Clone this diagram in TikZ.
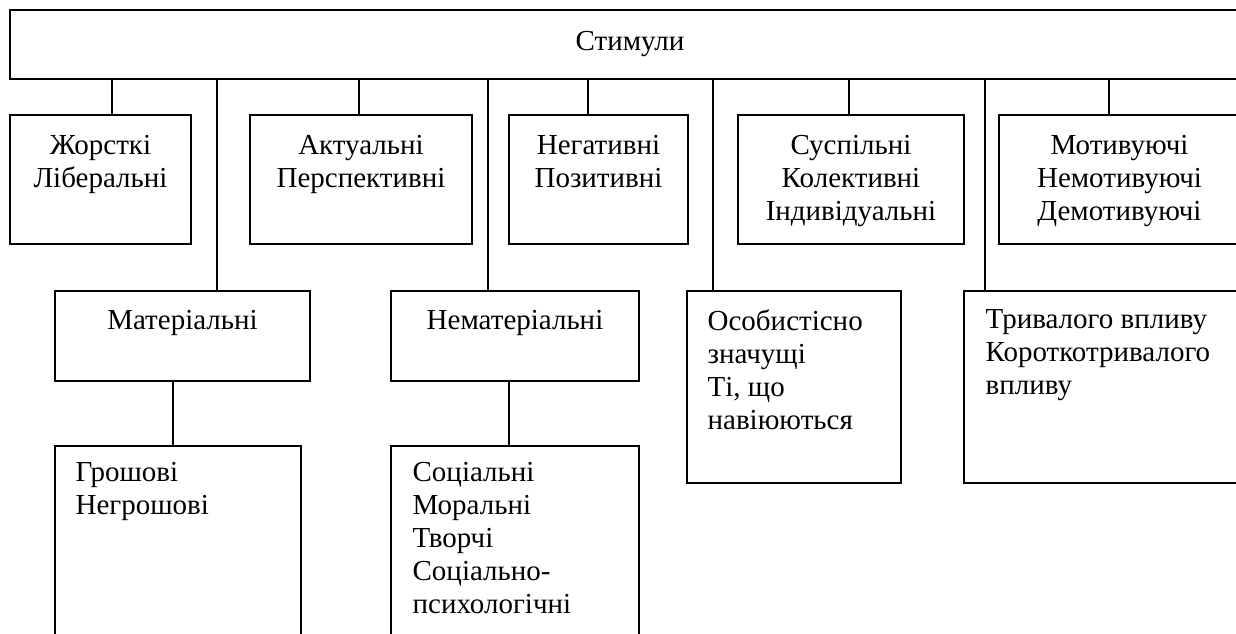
\documentclass[tikz,border=0pt]{standalone}
\usepackage{fontspec}
\setmainfont{Liberation Serif}
\usetikzlibrary{positioning}

\begin{document}
\begin{tikzpicture}[x=1pt,y=-1pt,
  frame/.style={draw,line width=1.1pt,inner sep=0pt,font=\fontsize{29}{33}\selectfont},
  wire/.style={line width=1.1pt},
  txt/.style={font=\fontsize{29}{33}\selectfont,inner sep=0pt,anchor=north},
  ltxt/.style={txt,align=left,anchor=north west}]
  \useasboundingbox (0,0) rectangle (1236,634);
  \clip (0,0) rectangle (1236,634);
  % top
  \node[frame,minimum width=1240pt,minimum height=69pt] (stim) at (630,44.5) {Стимули};
  % first row
  \node[frame,minimum width=181pt,minimum height=129pt] (zhor) at (100.5,179.5) {};
  \node[frame,minimum width=222pt,minimum height=129pt] (aktu) at (361,179.5) {};
  \node[frame,minimum width=179pt,minimum height=129pt] (nega) at (598.5,179.5) {};
  \node[frame,minimum width=226pt,minimum height=129pt] (susp) at (851,179.5) {};
  \node[frame,minimum width=251pt,minimum height=129pt] (moty) at (1124.5,179.5) {};
  \node[txt,align=center] at ([yshift=-21pt]zhor.north) {Жорсткі\\Ліберальні};
  \node[txt,align=center] at ([yshift=-21pt]aktu.north) {Актуальні\\Перспективні};
  \node[txt,align=center] at ([yshift=-21pt]nega.north) {Негативні\\Позитивні};
  \node[txt,align=center] at ([yshift=-21pt]susp.north) {Суспільні\\Колективні\\Індивідуальні};
  \node[txt,align=center] at ([xshift=-5pt,yshift=-21pt]moty.north) {Мотивуючі\\Немотивуючі\\Демотивуючі};
  % second row
  \node[frame,minimum width=255pt,minimum height=90pt] (mat) at (182.5,336) {};
  \node[frame,minimum width=248pt,minimum height=90pt] (nemat) at (515,336) {};
  \node[frame,minimum width=214pt,minimum height=192pt] (osob) at (794,387) {};
  \node[frame,minimum width=286pt,minimum height=192pt] (tryv) at (1107,387) {};
  \node[txt] at ([yshift=-20pt]mat.north) {Матеріальні};
  \node[txt] at ([yshift=-20pt]nemat.north) {Нематеріальні};
  \node[ltxt] at ([xshift=21pt,yshift=-19pt]osob.north west) {Особистісно\\значущі\\Ті, що\\навіюються};
  \node[ltxt] at ([xshift=22pt,yshift=-19pt]tryv.north west) {Тривалого впливу\\Короткотривалого\\впливу};
  % third row
  \node[frame,minimum width=246pt,minimum height=214pt] (grosh) at (178,553) {};
  \node[frame,minimum width=248pt,minimum height=214pt] (soc) at (515,553) {};
  \node[ltxt] at ([xshift=21pt,yshift=-17pt]grosh.north west) {Грошові\\Негрошові};
  \node[ltxt] at ([xshift=22pt,yshift=-17pt]soc.north west) {Соціальні\\Моральні\\Творчі\\Соціально-\\психологічні};
  % connectors
  \foreach \b/\dx in {zhor/11.5,aktu/-2,nega/-10.5,susp/-2,moty/-15.5,mat/34.5,nemat/-27,osob/-81,tryv/-122}{
    \coordinate (t) at ([xshift=\dx pt]\b.north);
    \draw[wire] (t) -- (t |- stim.south);
  }
  \draw[wire] ([xshift=-5pt]grosh.north) -- ([xshift=-5pt]grosh.north |- mat.south);
  \draw[wire] ([xshift=-6pt]soc.north) -- ([xshift=-6pt]soc.north |- nemat.south);
\end{tikzpicture}
\end{document}
